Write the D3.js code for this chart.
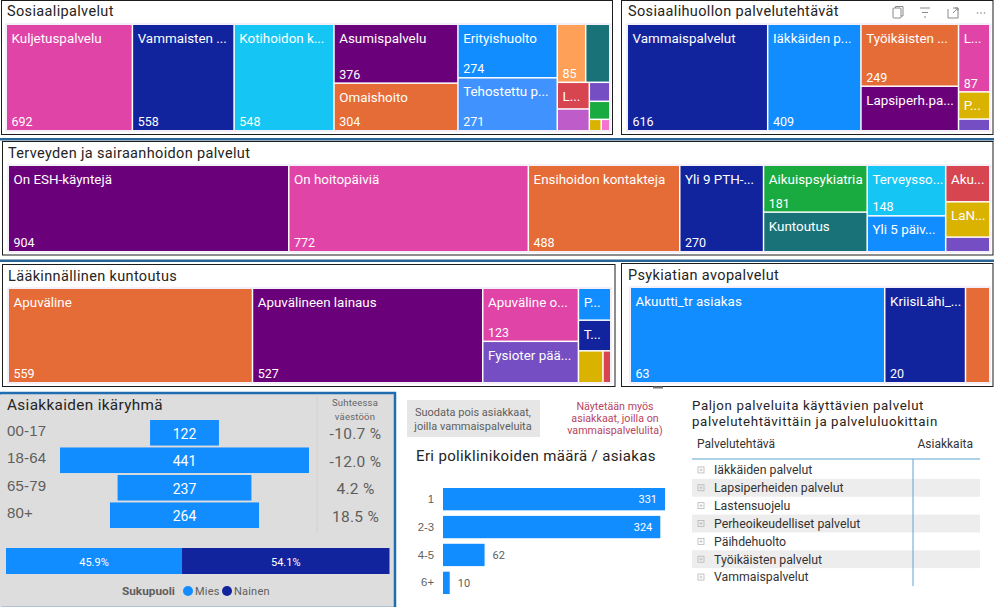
<!DOCTYPE html>
<html>
<head>
<meta charset="utf-8">
<script src="https://cdn.jsdelivr.net/npm/d3@7"></script>
<style>
  html, body { margin: 0; padding: 0; background: #fff; }
  svg { display: block; font-family: Roboto, "Noto Sans", sans-serif; }
</style>
</head>
<body>
<div id="viz"></div>
<script>
// ---- data: treemaps (names as shown, clipped the way the report clips them) ----
const sosNames = ["Kuljetuspalvelu", "Vammaisten ...", "Kotihoidon k...", "Asumispalvelu", "Omaishoito", "Erityishuolto", "Tehostettu p...", "", "", "L...", "", "", "", "", ""];
const sosValues = [692, 558, 548, 376, 304, 274, 271, 85, 72, 44, 36, 20, 19, 7, 5];
const sosGroups = [0, 1, 2, [3, 4], [5, 6], [[7, 8], [[9, 10], [11, 12, [13, 14]]]]];
const sosColors = ["pink", "navy", "cyan", "purple", "orange", "blue", "sky", "peach", "teal", "red", "orchid", "violet", "green", "yellow", "rose"];

const tehNames = ["Vammaispalvelut", "Iäkkäiden p...", "Työikäisten ...", "Lapsiperh.pa...", "L...", "P...", ""];
const tehValues = [616, 409, 249, 179, 87, 35, 15];
const tehGroups = [0, 1, [2, 3], [4, 5, 6]];
const tehColors = ["navy", "blue", "orange", "purple", "pink", "yellow", "violet"];

const terNames = ["On ESH-käyntejä", "On hoitopäiviä", "Ensihoidon kontakteja", "Yli 9 PTH-...", "Aikuispsykiatria", "Kuntoutus", "Terveysso...", "Yli 5 päiv...", "Aku...", "LaN...", ""];
const terValues = [904, 772, 488, 270, 181, 153, 148, 105, 60, 58, 24];
const terGroups = [0, 1, 2, 3, [4, 5], [6, 7], [8, 9, 10]];
const terColors = ["purple", "pink", "orange", "navy", "green", "teal", "cyan", "blue", "red", "yellow", "violet"];

const laaNames = ["Apuväline", "Apuvälineen lainaus", "Apuväline o...", "Fysioter pää...", "P...", "T...", "", ""];
const laaValues = [559, 527, 123, 96, 25, 24, 19, 6];
const laaGroups = [0, 1, [2, 3], [4, 5, [6, 7]]];
const laaColors = ["orange", "purple", "pink", "violet", "blue", "navy", "yellow", "red"];

const psyNames = ["Akuutti_tr asiakas", "KriisiLähi_...", ""];
const psyValues = [63, 20, 6];
const psyGroups = [0, 1, 2];
const psyColors = ["blue", "navy", "orange"];

// ---- data: age groups, gender, clinics, table ----
const ageGroups = ["00-17", "18-64", "65-79", "80+"];
const ageValues = [122, 441, 237, 264];
const ageRelative = ["-10.7 %", "-12.0 %", "4.2 %", "18.5 %"];

const genderNames = ["Mies", "Nainen"];
const genderValues = [45.9, 54.1];

const clinicGroups = ["1", "2-3", "4-5", "6+"];
const clinicValues = [331, 324, 62, 10];

const tableRows = ["Iäkkäiden palvelut", "Lapsiperheiden palvelut", "Lastensuojelu", "Perheoikeudelliset palvelut", "Päihdehuolto", "Työikäisten palvelut", "Vammaispalvelut"];

const palette = {
    pink: "#E044A7", navy: "#12239E", cyan: "#15C6F4", purple: "#6B007B", orange: "#E66C37",
    blue: "#118DFF", sky: "#4092FF", peach: "#FFA058", teal: "#197278", red: "#D64550",
    orchid: "#BE5DC9", violet: "#744EC2", green: "#1AAB40", yellow: "#D9B300", rose: "#F472D0"
};

const svg = d3.select("#viz").append("svg").attr("width", 999).attr("height", 607);

// ---- panel frames and blue separators ----
function frame(x0, y0, x1, y1) {
    svg.append("rect").attr("x", x0).attr("y", y0).attr("width", x1 - x0).attr("height", y1 - y0)
        .attr("fill", "#fff").attr("stroke", "#1c1c1c").attr("stroke-width", 1);
}

svg.append("rect").attr("x", 0).attr("y", 138).attr("width", 994).attr("height", 2.5).attr("fill", "#2A6496");
svg.append("rect").attr("x", 0).attr("y", 259.5).attr("width", 994).attr("height", 2.5).attr("fill", "#2A6496");

frame(1.5, 0.5, 612.5, 134.5);
frame(621.5, 0.5, 993, 134.5);
frame(2.5, 141.5, 993, 255);
frame(2.5, 264.5, 615, 386.5);
frame(621.5, 263.5, 993, 386.5);

svg.append("rect").attr("x", 653).attr("y", 386.5).attr("width", 10).attr("height", 2).attr("fill", "#777");

function panelTitle(text, x, y) {
    svg.append("text").attr("x", x).attr("y", y).attr("dy", "0.35em")
        .attr("font-size", 14.5).attr("letter-spacing", 0.35).attr("fill", "#252423").text(text);
}

panelTitle("Sosiaalipalvelut", 7, 11);
panelTitle("Sosiaalihuollon palvelutehtävät", 628, 11);
panelTitle("Terveyden ja sairaanhoidon palvelut", 8, 153);
panelTitle("Lääkinnällinen kuntoutus", 8, 276);
panelTitle("Psykiatian avopalvelut", 628, 275);

// ---- treemaps: groups nest by column / row so slice-dice follows the report's layout ----
function drawTreemap(box, names, values, groups, colors) {
    const toNode = g => typeof g === "number" ? { index: g, size: values[g] } : { children: g.map(toNode) };
    const root = d3.hierarchy({ children: groups.map(toNode) }).sum(d => d.size || 0);

    d3.treemap()
        .tile(d3.treemapSliceDice)
        .size([box.x1 - box.x0, box.y1 - box.y0])
        .paddingInner(1.5)(root);

    const g = svg.append("g").attr("transform", `translate(${box.x0},${box.y0})`);

    g.append("rect")
        .attr("x", -1).attr("y", -1)
        .attr("width", box.x1 - box.x0 + 2).attr("height", box.y1 - box.y0 + 2)
        .attr("fill", "none").attr("stroke", "#e9dff2").attr("stroke-width", 1);

    const tile = g.selectAll("g.tile")
        .data(root.leaves())
        .join("g")
        .attr("class", "tile")
        .attr("transform", d => `translate(${d.x0},${d.y0})`);

    tile.append("rect")
        .attr("width", d => d.x1 - d.x0)
        .attr("height", d => d.y1 - d.y0)
        .attr("fill", d => palette[colors[d.data.index]]);

    tile.append("text")
        .attr("x", 4.5).attr("y", 13).attr("dy", "0.35em")
        .attr("font-size", 13.4).attr("fill", "#fff")
        .text(d => names[d.data.index]);

    // the report drops the value once a tile is too small for it
    tile.filter(d => d.y1 - d.y0 >= 44 && d.x1 - d.x0 >= 25)
        .append("text")
        .attr("x", 4.5).attr("y", d => d.y1 - d.y0 - 8).attr("dy", "0.35em")
        .attr("font-size", 12.5).attr("fill", "#fff")
        .text(d => values[d.data.index]);
}

drawTreemap({ x0: 7, y0: 25, x1: 609, y1: 130 }, sosNames, sosValues, sosGroups, sosColors);
drawTreemap({ x0: 628, y0: 25, x1: 989, y1: 130 }, tehNames, tehValues, tehGroups, tehColors);
drawTreemap({ x0: 9, y0: 166, x1: 989, y1: 251 }, terNames, terValues, terGroups, terColors);
drawTreemap({ x0: 9, y0: 289, x1: 610, y1: 382 }, laaNames, laaValues, laaGroups, laaColors);
drawTreemap({ x0: 631, y0: 288, x1: 989, y1: 382 }, psyNames, psyValues, psyGroups, psyColors);

// ---- visual header icons, top right panel ----
const icons = svg.append("g").attr("fill", "none").attr("stroke", "#8a8a8a").attr("stroke-width", 1);
icons.append("rect").attr("x", 893).attr("y", 8).attr("width", 8).attr("height", 10).attr("rx", 1);
icons.append("path").attr("d", "M895.5 8V6.5H903V16H901");
icons.append("path").attr("d", "M920 8H930M922 12.5H928M924 17H926");
icons.append("path").attr("d", "M948 9V18H958V8H953M953 13L958 8M955 8H958V11");
svg.selectAll("circle.more").data([-3.5, 0, 3.5]).join("circle")
    .attr("class", "more").attr("cx", d => 981 + d).attr("cy", 13).attr("r", 0.8).attr("fill", "#8a8a8a");

// ---- age group panel ----
svg.append("rect").attr("x", 0).attr("y", 393).attr("width", 395).attr("height", 215)
    .attr("fill", "#DDDDDD").attr("stroke", "#1F6CB0").attr("stroke-width", 2.5);
svg.append("rect").attr("x", 0).attr("y", 394.5).attr("width", 2).attr("height", 213).attr("fill", "#DDDDDD");

svg.append("text").attr("x", 7).attr("y", 405).attr("dy", "0.35em")
    .attr("font-size", 15.3).attr("letter-spacing", 0.35).attr("fill", "#252423").text("Asiakkaiden ikäryhmä");

svg.append("line").attr("x1", 317).attr("x2", 317).attr("y1", 394).attr("y2", 533).attr("stroke", "#d2d2d2");

svg.selectAll("text.suht").data(["Suhteessa", "väestöön"]).join("text")
    .attr("class", "suht").attr("x", 355).attr("y", (d, i) => 403 + i * 14).attr("dy", "0.35em")
    .attr("text-anchor", "middle").attr("font-size", 9.5).attr("letter-spacing", 0.2).attr("fill", "#666").text(d => d);

const ageY = d3.scaleBand().domain(ageGroups).range([420, 528]).paddingInner(0.07).paddingOuter(0);
const ageW = d3.scaleLinear().domain([0, 441]).range([0, 249]);
const ageCx = 184.5;

svg.selectAll("rect.age").data(ageValues).join("rect")
    .attr("class", "age")
    .attr("x", d => ageCx - ageW(d) / 2)
    .attr("y", (d, i) => ageY(ageGroups[i]))
    .attr("width", d => ageW(d))
    .attr("height", ageY.bandwidth())
    .attr("fill", palette.blue);

svg.selectAll("text.ageValue").data(ageValues).join("text")
    .attr("class", "ageValue")
    .attr("x", ageCx)
    .attr("y", (d, i) => ageY(ageGroups[i]) + ageY.bandwidth() / 2 + 1)
    .attr("dy", "0.35em").attr("text-anchor", "middle")
    .attr("font-size", 14).attr("fill", "#fff").text(d => d);

const ageAxis = svg.append("g").attr("transform", "translate(7,0)")
    .call(d3.axisRight(ageY).tickSize(0).tickPadding(0));
ageAxis.select(".domain").remove();
ageAxis.selectAll("text").attr("font-size", 15).attr("font-family", "inherit").attr("letter-spacing", 0.2)
    .attr("fill", "#605E5C").attr("dy", "0.2em");

svg.selectAll("text.rel").data(ageRelative).join("text")
    .attr("class", "rel")
    .attr("x", 355.5)
    .attr("y", (d, i) => ageY(ageGroups[i]) + ageY.bandwidth() / 2 + 1)
    .attr("dy", "0.35em").attr("text-anchor", "middle")
    .attr("font-size", 15.5).attr("letter-spacing", 0.3).attr("fill", "#605E5C").text(d => d);

// ---- gender share bar ----
const genderX = d3.scaleLinear().domain([0, 100]).range([6, 389.5]);
const genderStack = d3.stack().keys(genderNames)([Object.fromEntries(genderNames.map((n, i) => [n, genderValues[i]]))]);

const genderBar = svg.selectAll("g.gender").data(genderStack).join("g").attr("class", "gender");
genderBar.append("rect")
    .attr("x", d => genderX(d[0][0]))
    .attr("y", 548)
    .attr("width", d => genderX(d[0][1]) - genderX(d[0][0]))
    .attr("height", 26)
    .attr("fill", (d, i) => i === 0 ? palette.blue : palette.navy);
genderBar.append("text")
    .attr("x", d => (genderX(d[0][0]) + genderX(d[0][1])) / 2)
    .attr("y", 562).attr("dy", "0.35em").attr("text-anchor", "middle")
    .attr("font-size", 11).attr("fill", "#fff")
    .text((d, i) => genderValues[i].toFixed(1) + "%");

svg.append("text").attr("x", 122).attr("y", 591).attr("dy", "0.35em")
    .attr("font-size", 11.8).attr("font-weight", 700).attr("fill", "#605E5C").text("Sukupuoli");
genderNames.forEach((name, i) => {
    const cx = [188, 227][i];
    svg.append("circle").attr("cx", cx).attr("cy", 591).attr("r", 5)
        .attr("fill", i === 0 ? palette.blue : palette.navy);
    svg.append("text").attr("x", cx + 7).attr("y", 591).attr("dy", "0.35em")
        .attr("font-size", 11).attr("letter-spacing", 0.2).attr("fill", "#605E5C").text(name);
});

// ---- filter button and note ----
svg.append("rect").attr("x", 407).attr("y", 400).attr("width", 133).attr("height", 37).attr("fill", "#E6E6E6");
svg.selectAll("text.btn").data(["Suodata pois asiakkaat,", "joilla vammaispalveluita"]).join("text")
    .attr("class", "btn").attr("x", 473).attr("y", (d, i) => 412 + i * 14).attr("dy", "0.35em")
    .attr("text-anchor", "middle").attr("font-size", 11).attr("fill", "#605E5C").text(d => d);

svg.selectAll("text.note").data(["Näytetään myös", "asiakkaat, joilla on", "vammaispalvelulita)"]).join("text")
    .attr("class", "note").attr("x", 615).attr("y", (d, i) => 406 + i * 12).attr("dy", "0.35em")
    .attr("text-anchor", "middle").attr("font-size", 10.7).attr("fill", "#B8455F").text(d => d);

// ---- clinics per client ----
svg.append("text").attr("x", 416).attr("y", 456).attr("dy", "0.35em")
    .attr("font-size", 15).attr("letter-spacing", 0.35).attr("fill", "#252423").text("Eri poliklinikoiden määrä / asiakas");

const clinicY = d3.scaleBand().domain(clinicGroups).range([488, 594]).paddingInner(0.2).paddingOuter(0);
const clinicX = d3.scaleLinear().domain([0, 331]).range([443, 665]);

svg.selectAll("rect.clinic").data(clinicValues).join("rect")
    .attr("class", "clinic")
    .attr("x", clinicX(0))
    .attr("y", (d, i) => clinicY(clinicGroups[i]))
    .attr("width", d => clinicX(d) - clinicX(0))
    .attr("height", clinicY.bandwidth())
    .attr("fill", palette.blue);

const clinicAxis = svg.append("g").attr("transform", "translate(434,0)")
    .call(d3.axisLeft(clinicY).tickSize(0).tickPadding(0));
clinicAxis.select(".domain").remove();
clinicAxis.selectAll("text").attr("font-size", 11.3).attr("font-family", "inherit").attr("fill", "#605E5C");

svg.selectAll("text.clinicValue").data(clinicValues).join("text")
    .attr("class", "clinicValue")
    .attr("x", d => d > 100 ? clinicX(d) - 8 : clinicX(d) + 8)
    .attr("y", (d, i) => clinicY(clinicGroups[i]) + clinicY.bandwidth() / 2)
    .attr("dy", "0.35em")
    .attr("text-anchor", d => d > 100 ? "end" : "start")
    .attr("font-size", 11)
    .attr("fill", d => d > 100 ? "#fff" : "#605E5C")
    .text(d => d);

// ---- table ----
svg.selectAll("text.tblTitle").data(["Paljon palveluita käyttävien palvelut", "palvelutehtävittäin ja palveluluokittain"]).join("text")
    .attr("class", "tblTitle").attr("x", 692).attr("y", (d, i) => 405 + i * 16.5).attr("dy", "0.35em")
    .attr("font-size", 13.3).attr("letter-spacing", 0.6).attr("fill", "#252423").text(d => d);

svg.append("text").attr("x", 697).attr("y", 444).attr("dy", "0.35em")
    .attr("font-size", 12).attr("fill", "#333").text("Palvelutehtävä");
svg.append("text").attr("x", 973).attr("y", 444).attr("dy", "0.35em").attr("text-anchor", "end")
    .attr("font-size", 12).attr("fill", "#333").text("Asiakkaita");

const rowY = d3.scaleBand().domain(tableRows).range([461, 586]);

const row = svg.selectAll("g.row").data(tableRows).join("g")
    .attr("class", "row")
    .attr("transform", d => `translate(0,${rowY(d)})`);

row.filter((d, i) => i % 2 === 1).append("rect")
    .attr("x", 692).attr("width", 288).attr("height", rowY.bandwidth()).attr("fill", "#EEEDED");
row.append("rect")
    .attr("x", 698).attr("y", rowY.bandwidth() / 2 - 3).attr("width", 6).attr("height", 6)
    .attr("fill", "none").attr("stroke", "#b5b5b5").attr("stroke-width", 0.8);
row.append("path")
    .attr("d", `M699.5 ${rowY.bandwidth() / 2}h3M701 ${rowY.bandwidth() / 2 - 1.5}v3`)
    .attr("stroke", "#b5b5b5").attr("stroke-width", 0.7);
row.append("text")
    .attr("x", 714).attr("y", rowY.bandwidth() / 2).attr("dy", "0.35em")
    .attr("font-size", 12.3).attr("fill", "#333").text(d => d);

svg.append("line").attr("x1", 692).attr("x2", 980).attr("y1", 459).attr("y2", 459).attr("stroke", "#5BA4D4");
svg.append("line").attr("x1", 913).attr("x2", 913).attr("y1", 459).attr("y2", 586).attr("stroke", "#5BA4D4");
</script>
</body>
</html>
